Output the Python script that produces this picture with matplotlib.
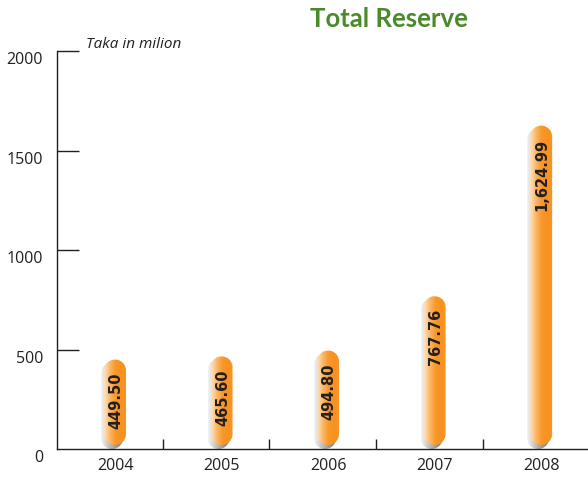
import matplotlib.pyplot as plt
import numpy as np
from matplotlib.path import Path
from matplotlib.patches import PathPatch
from matplotlib.colors import LinearSegmentedColormap

years = ['2004', '2005', '2006', '2007', '2008']
reserve = [449.50, 465.60, 494.80, 767.76, 1624.99]
value_labels = ['449.50', '465.60', '494.80', '767.76', '1,624.99']
y_ticks = [0, 500, 1000, 1500, 2000]

fig = plt.figure(figsize=(5.88, 4.81), dpi=100)
ax = fig.add_axes([0.0969, 0.0644, 0.9031, 0.8275])

ax.set_xlim(-0.545, 4.44)
ax.set_ylim(0, 2000)

# pixel sizes in data units
px_x = 1 / 106.5
px_y = 2000 / 398
bar_w = 22 * px_x


def pill_path(x0, y0, w, top):
    # capsule shape with semicircular ends, in data coords
    rx = w / 2
    ry = rx / px_x * px_y
    cx = x0 + rx
    t = np.linspace(0, np.pi, 40)
    upper = np.column_stack([cx + rx * np.cos(t), top - ry + ry * np.sin(t)])
    lower = np.column_stack([cx - rx * np.cos(t), y0 + ry - ry * np.sin(t)])
    verts = np.vstack([upper, lower, upper[:1]])
    codes = [Path.MOVETO] + [Path.LINETO] * (len(verts) - 2) + [Path.CLOSEPOLY]
    return Path(verts, codes)


orange = LinearSegmentedColormap.from_list(
    'pill', ['#fde3c0', '#fbb868', '#f8982c', '#f7911f', '#f6962c'])
grey = LinearSegmentedColormap.from_list(
    'shadow', ['#f4f4f4', '#c4c4c4', '#9a9a9a', '#7a7a7a'])

grad = np.linspace(0, 1, 64).reshape(1, -1)

for i, (val, lab) in enumerate(zip(reserve, value_labels)):
    x0 = i - bar_w / 2
    # shadow capsule, shifted left and down
    sx = x0 - 3 * px_x
    sy = 0
    shadow = PathPatch(pill_path(sx, sy, bar_w, val - 3 * px_y),
                       transform=ax.transData, fc='none', ec='none')
    ax.add_patch(shadow)
    im = ax.imshow(grad, cmap=grey, extent=(sx, sx + bar_w, sy, val),
                   aspect='auto', zorder=2)
    im.set_clip_path(shadow)

    y0 = 4 * px_y
    pill = PathPatch(pill_path(x0, y0, bar_w, val), transform=ax.transData,
                     fc='none', ec='none')
    ax.add_patch(pill)
    im = ax.imshow(grad, cmap=orange, extent=(x0, x0 + bar_w, y0, val),
                   aspect='auto', zorder=3)
    im.set_clip_path(pill)

    ax.text(i + 1 * px_x, val - 12 * px_y, lab, rotation=90, ha='center', va='top',
            fontsize=10.5, fontweight='bold', color='#231f20', zorder=4,
            family='DejaVu Sans')

ax.set_aspect('auto')
ax.set_xlim(-0.545, 4.44)
ax.set_ylim(0, 2000)

for side in ['top', 'right']:
    ax.spines[side].set_visible(False)
for side in ['left', 'bottom']:
    ax.spines[side].set_color('#231f20')
    ax.spines[side].set_linewidth(1.0)

ax.set_yticks(y_ticks)
ax.set_yticklabels([str(t) for t in y_ticks])
ax.tick_params(axis='y', direction='in', length=16, width=1.0, color='#231f20',
               labelsize=11.5, labelcolor='#231f20', pad=10)
for t in ax.get_yticklabels():
    t.set_family('Open Sans')
    t.set_va('top')
ax.yaxis.get_major_ticks()[0].tick1line.set_visible(False)

ax.set_xticks(range(len(years)))
ax.set_xticklabels(years)
ax.tick_params(axis='x', length=0, labelsize=11.5, labelcolor='#231f20', pad=6)
for t in ax.get_xticklabels():
    t.set_family('Open Sans')
ax.set_xticks([0.45, 1.45, 2.45, 3.45], minor=True)
ax.tick_params(axis='x', which='minor', direction='in', length=7, width=1.0,
               color='#231f20')

fig.text(0.662, 0.960, 'Total Reserve', ha='center', va='center', fontsize=18.5,
         fontweight='bold', color='#4a8a2a', family='Lato')
ax.text(-0.27, 2000 + 7 * px_y, 'Taka in milion', ha='left', va='center',
        fontsize=11, style='italic', color='#231f20', family='Open Sans')

fig.savefig('out.png', dpi=100)
